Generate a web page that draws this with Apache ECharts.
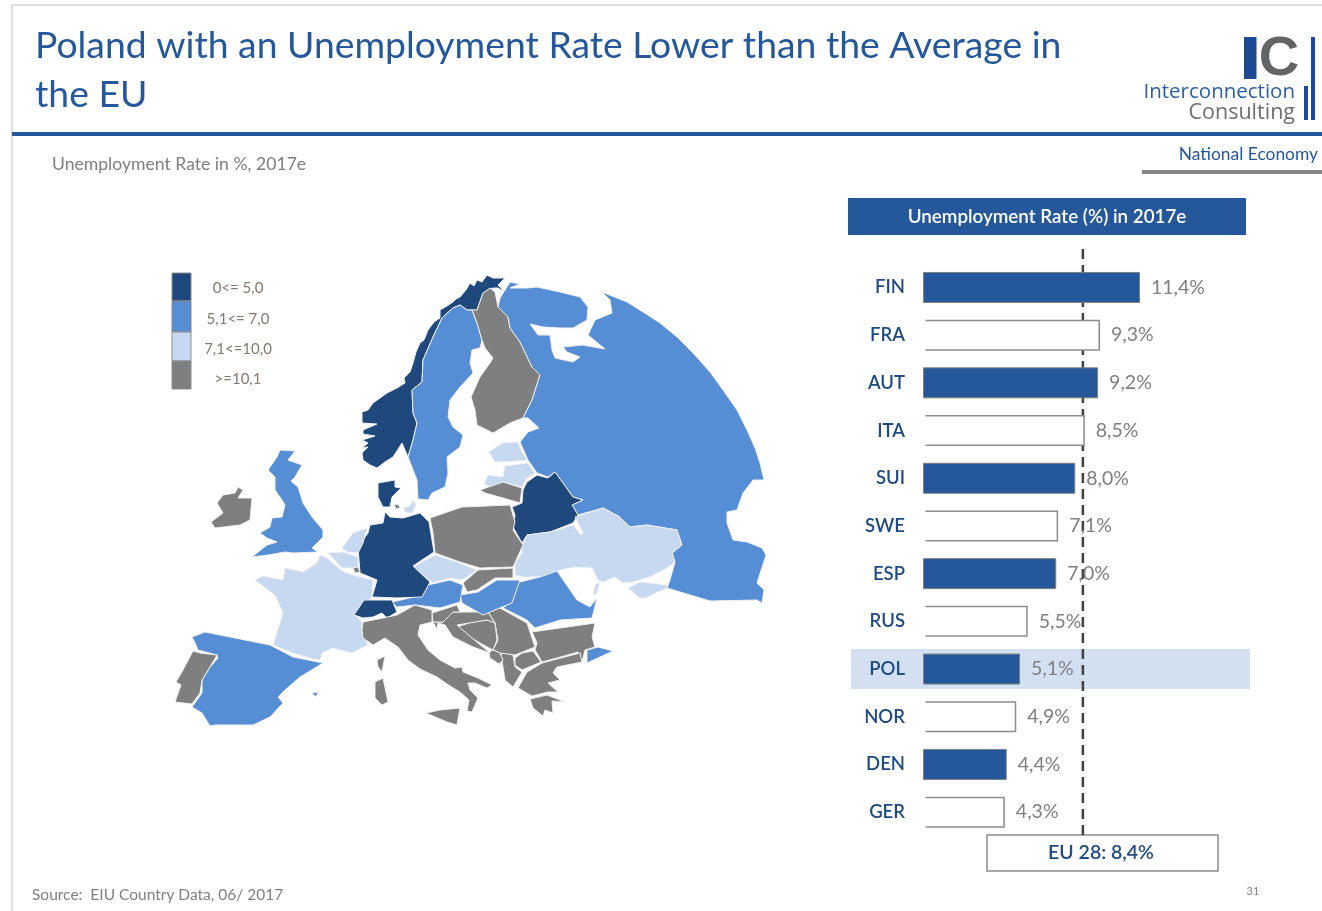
<!DOCTYPE html>
<html>
<head>
<meta charset="utf-8">
<title>Unemployment Rate in Europe, 2017e</title>
<script src="https://cdn.jsdelivr.net/npm/echarts@6/dist/echarts.min.js"></script>
<style>
  html, body { margin: 0; padding: 0; background: #fff; }
  #chart { width: 1322px; height: 911px; }
</style>
</head>
<body>
<div id="chart"></div>
<script>
// Ranking shown in the bar panel (percent, 2017e)
const countryCodes = ['FIN', 'FRA', 'AUT', 'ITA', 'SUI', 'SWE', 'ESP', 'RUS', 'POL', 'NOR', 'DEN', 'GER'];
const rateValues = [11.4, 9.3, 9.2, 8.5, 8.0, 7.1, 7.0, 5.5, 5.1, 4.9, 4.4, 4.3];
const solidBarCodes = ['FIN', 'AUT', 'SUI', 'ESP', 'POL', 'DEN'];
const euAverage = 8.4;

// Rate classes of the choropleth
const classLabels = ['0<= 5,0', '5,1<= 7,0', '7,1<=10,0', '>=10,1'];
const classColors = ['#1f497d', '#558ed5', '#c6d9f1', '#7f7f7f'];

// Countries by rate class, index into classLabels
const class0Countries = ['Norway', 'Belarus', 'Germany', 'Denmark', 'Switzerland'];
const class1Countries = ['Sweden', 'Russia', 'United Kingdom', 'Spain', 'Austria', 'Hungary', 'Romania', 'Turkey'];
const class2Countries = ['France', 'Ukraine', 'Czechia', 'Netherlands', 'Belgium', 'Estonia', 'Latvia', 'Zealand'];
const class3Countries = ['Finland', 'Poland', 'Ireland', 'Portugal', 'Italy', 'Slovakia', 'Slovenia', 'Croatia', 'Bosnia',
  'Serbia', 'Montenegro', 'Albania', 'Macedonia', 'Bulgaria', 'Greece', 'Lithuania', 'Luxembourg', 'Funen'];

// Simplified country outlines in map units (x east, y south), conic view of Europe
const countryOutlines = {
  Norway: [[[377,468],[370,465],[363,460],[362,453],[368,447],[362,448],[368,443],[362,440],[375,436],[363,434],[363,430],[377,424],[362,423],[362,412],[368,410],[373,403],[387,393],[397,388],[405,383],[404,378],[410,372],[413,363],[416,352],[420,343],[424,340],[428,330],[434,322],[440,318],[440,310],[447,306],[453,302],[456,299],[460,297],[466,290],[470,283],[474,286],[477,280],[482,282],[487,275],[493,278],[505,278],[498,285],[505,292],[498,288],[493,288],[483,293],[477,310],[467,310],[460,305],[453,308],[442,318],[433,337],[423,360],[422,382],[412,390],[413,413],[417,423],[413,440],[408,457],[402,443],[393,457],[385,462]]],
  Sweden: [[[453,308],[460,305],[467,310],[472,310],[477,323],[482,340],[480,348],[472,350],[470,363],[473,373],[460,387],[450,400],[448,417],[453,427],[463,435],[460,447],[447,457],[448,473],[445,487],[432,493],[428,500],[418,499],[417,480],[408,457],[413,440],[417,423],[413,413],[412,390],[422,382],[423,360],[433,337],[442,318]]],
  Finland: [[[490,288],[495,292],[498,307],[508,317],[510,328],[520,342],[532,367],[540,375],[532,400],[523,418],[510,423],[493,433],[477,425],[475,410],[471,397],[480,377],[490,363],[493,358],[485,348],[482,340],[477,323],[472,310],[477,310],[483,293]]],
  Russia: [[[500,298],[510,282],[520,284],[510,288],[527,288],[537,287],[560,292],[580,297],[588,307],[587,320],[573,328],[560,328],[543,327],[530,324],[538,335],[550,335],[552,350],[555,358],[573,362],[580,357],[567,352],[563,347],[583,345],[605,349],[588,335],[595,320],[612,313],[610,300],[602,292],[627,302],[643,312],[660,323],[677,337],[693,353],[710,372],[723,390],[737,410],[747,430],[755,448],[760,463],[764,480],[753,480],[743,493],[737,510],[727,512],[727,523],[733,540],[747,542],[762,548],[766,555],[757,583],[764,590],[762,603],[757,600],[710,601],[667,588],[670,580],[675,562],[672,553],[682,545],[677,530],[647,525],[630,527],[620,517],[603,508],[578,515],[572,505],[583,500],[573,497],[555,472],[548,477],[537,473],[528,460],[520,442],[528,432],[539,428],[528,418],[523,418],[532,400],[540,375],[532,367],[520,342],[510,328],[508,317],[498,307]]],
  Belarus: [[[527,482],[537,475],[548,478],[555,472],[573,497],[583,500],[572,505],[578,515],[573,523],[550,532],[527,535],[522,543],[513,527],[515,515],[512,507],[522,503],[523,490]]],
  Ukraine: [[[522,545],[527,535],[550,532],[573,525],[581,535],[583,533],[575,517],[603,508],[620,517],[630,527],[647,525],[677,530],[682,545],[672,553],[675,562],[667,568],[650,577],[633,582],[623,583],[615,577],[603,582],[598,580],[592,568],[575,567],[560,570],[543,577],[523,577],[515,575],[515,563],[522,553]],
    [[628,588],[640,582],[668,585],[667,588],[645,598],[640,598]],
    [[595,585],[600,582],[597,593],[593,595]]],
  Romania: [[[520,582],[540,577],[557,571],[577,600],[590,607],[597,598],[592,618],[560,620],[535,628],[527,620],[503,608],[513,600],[517,585]]],
  Bulgaria: [[[532,632],[567,627],[595,623],[592,637],[595,647],[585,650],[582,662],[578,652],[557,658],[542,662],[535,650],[537,643]]],
  Turkey: [[[587,650],[598,647],[613,651],[600,657],[587,663]]],
  Greece: [[[542,663],[580,653],[582,662],[557,667],[553,673],[560,680],[548,683],[558,692],[548,692],[532,696],[518,688],[527,672]],
    [[530,699],[547,695],[565,702],[552,701],[553,713],[545,710],[543,716],[533,708]]],
  Macedonia: [[[515,658],[522,653],[533,651],[541,662],[522,670],[515,665]]],
  Albania: [[[501,655],[503,652],[513,655],[515,667],[522,672],[513,687],[505,680],[503,667]]],
  Serbia: [[[488,612],[500,608],[527,623],[535,647],[515,655],[500,653],[493,650],[498,640],[495,623]]],
  Montenegro: [[[489,652],[493,650],[500,653],[503,660],[499,664],[490,658]]],
  Bosnia: [[[457,627],[472,622],[488,620],[495,623],[497,640],[493,650],[480,643],[470,637]]],
  Croatia: [[[433,622],[443,622],[453,612],[473,612],[488,612],[495,623],[487,620],[457,625],[472,638],[490,653],[473,647],[453,637],[445,625],[438,623],[437,629]]],
  Slovenia: [[[432,613],[457,605],[460,612],[453,612],[443,622],[433,622]]],
  Hungary: [[[460,595],[478,592],[497,580],[520,580],[512,603],[502,607],[483,615],[462,603]]],
  Slovakia: [[[463,583],[478,570],[513,568],[513,578],[495,578],[477,590],[467,592]]],
  Austria: [[[392,602],[423,595],[428,585],[450,580],[463,585],[460,602],[440,608],[415,605],[397,607]]],
  Czechia: [[[413,567],[435,555],[457,562],[477,570],[462,580],[450,578],[433,583]]],
  Poland: [[[430,518],[462,507],[510,505],[515,522],[513,530],[523,545],[513,567],[480,568],[460,562],[435,553],[433,533]]],
  Germany: [[[385,512],[390,517],[403,518],[420,513],[429,522],[434,552],[413,566],[430,582],[422,597],[397,598],[372,597],[377,580],[360,573],[358,547],[368,533],[370,525],[383,523]]],
  Denmark: [[[378,483],[395,480],[395,487],[401,488],[392,497],[390,507],[383,507],[378,497]]],
  Funen: [[[394,504],[399,505],[400,508],[396,509]]],
  Zealand: [[[403,508],[410,506],[413,500],[416,505],[412,513],[405,512]]],
  'United Kingdom': [[[280,450],[295,451],[288,460],[302,465],[295,477],[291,481],[298,487],[303,503],[312,517],[323,530],[323,537],[312,548],[318,552],[293,553],[285,552],[268,555],[252,557],[267,545],[277,542],[267,538],[260,533],[270,527],[272,518],[282,517],[285,505],[282,500],[275,490],[275,477],[268,470],[277,457]]],
  Ireland: [[[238,487],[243,490],[238,498],[252,498],[250,520],[240,525],[215,528],[211,522],[223,513],[217,503],[223,495],[235,493]]],
  Netherlands: [[[342,548],[353,533],[367,528],[363,543],[358,553],[347,552]]],
  Belgium: [[[328,553],[343,552],[358,557],[358,567],[352,568],[342,568]]],
  Luxembourg: [[[353,568],[358,567],[360,572],[355,573]]],
  France: [[[320,555],[327,558],[342,571],[353,575],[373,580],[372,597],[355,615],[362,622],[362,633],[368,645],[352,653],[333,648],[322,653],[320,660],[313,659],[293,653],[273,645],[283,613],[275,595],[255,580],[263,576],[283,580],[285,568],[303,572],[317,563]]],
  Switzerland: [[[354,615],[364,600],[392,600],[397,612],[387,618],[382,613],[373,617],[363,618]]],
  Italy: [[[363,622],[383,618],[397,615],[415,605],[432,610],[432,622],[420,625],[418,635],[428,650],[440,660],[455,668],[462,667],[463,672],[478,678],[492,685],[487,688],[475,683],[468,683],[470,690],[478,698],[472,712],[467,711],[469,700],[460,692],[450,686],[437,677],[420,669],[408,660],[398,647],[385,638],[373,645],[363,638],[362,630]],
    [[426,713],[440,710],[460,708],[457,725],[447,722]],
    [[375,682],[383,678],[388,702],[382,705],[375,698]],
    [[377,660],[385,656],[382,672],[378,667]]],
  Spain: [[[192,637],[205,632],[270,645],[293,657],[323,663],[300,677],[285,690],[278,697],[283,703],[270,717],[253,725],[215,725],[210,726],[202,713],[192,707],[202,693],[202,680],[210,667],[218,658],[217,655],[198,650],[195,643]],
    [[312,693],[318,692],[316,697]]],
  Portugal: [[[193,651],[200,653],[217,655],[210,667],[202,680],[200,693],[192,704],[175,702],[181,685],[176,682],[183,670]]],
  Estonia: [[[489,452],[502,443],[518,442],[522,452],[528,460],[505,462],[495,462]]],
  Latvia: [[[484,484],[488,475],[503,477],[505,466],[528,463],[535,473],[527,478],[522,487],[503,482],[490,487]]],
  Lithuania: [[[480,490],[503,482],[522,488],[520,503],[503,498],[485,493]]]
};

const BRAND_BLUE = '#25589b';
const TEXT_GREY = '#7f7f7f';
const LABEL_BLUE = '#1f4b82';
const FONT = 'Lato, "Open Sans", sans-serif';

// GeoJSON latitude grows northwards, so the south-pointing y is negated here
const geoFeatures = Object.keys(countryOutlines).map(function (name) {
  return {
    type: 'Feature',
    properties: { name: name },
    geometry: {
      type: 'MultiPolygon',
      coordinates: countryOutlines[name].map(function (ring) {
        return [ring.map(function (p) { return [p[0], -p[1]]; })];
      })
    }
  };
});
echarts.registerMap('europe', { type: 'FeatureCollection', features: geoFeatures });

const allPoints = Object.values(countryOutlines).flat(2);
const mapBox = {
  left: Math.min.apply(null, allPoints.map(function (p) { return p[0]; })),
  right: Math.max.apply(null, allPoints.map(function (p) { return p[0]; })),
  top: Math.min.apply(null, allPoints.map(function (p) { return p[1]; })),
  bottom: Math.max.apply(null, allPoints.map(function (p) { return p[1]; }))
};

const mapData = [class0Countries, class1Countries, class2Countries, class3Countries]
  .flatMap(function (names, cls) {
    return names.map(function (name) { return { name: name, value: cls }; });
  });

function commaPercent(v) { return v.toFixed(1).replace('.', ',') + '%'; }
function barSeriesValues(keepSolid) {
  return countryCodes.map(function (code, i) {
    return (solidBarCodes.indexOf(code) >= 0) === keepSolid ? rateValues[i] : null;
  });
}
function barLabel() {
  return {
    show: true, position: 'right', distance: 11,
    color: TEXT_GREY, fontFamily: FONT, fontSize: 19.5,
    formatter: function (p) { return commaPercent(p.value); }
  };
}

// Decorative slide furniture: frame, rules, logo, panel header, legend and notes
function slideGraphics() {
  const items = [
    { type: 'rect', shape: { x: 11, y: 4, width: 1311, height: 2 }, style: { fill: '#dedede' } },
    { type: 'rect', shape: { x: 11, y: 4, width: 2, height: 907 }, style: { fill: '#dedede' } },
    { type: 'rect', shape: { x: 12, y: 132, width: 1310, height: 4 }, style: { fill: BRAND_BLUE } },
    { type: 'rect', shape: { x: 1142, y: 170, width: 180, height: 4 }, style: { fill: '#858585' } },
    // logo
    { type: 'rect', shape: { x: 1244, y: 37, width: 12.5, height: 42 }, style: { fill: '#1d4a94' } },
    { type: 'text', x: 1279, y: 60, style: { text: 'C', fill: '#636466', font: 'bold 56px "Liberation Sans"', align: 'center', verticalAlign: 'middle' } },
    { type: 'rect', shape: { x: 1311, y: 37, width: 4, height: 83 }, style: { fill: '#1d4a94' } },
    { type: 'rect', shape: { x: 1304, y: 86, width: 4, height: 34 }, style: { fill: '#1d4a94' } },
    { type: 'text', x: 1295, y: 92, style: { text: 'Interconnection', fill: '#2b5ea6', font: '20.5px "Open Sans"', align: 'right', verticalAlign: 'middle' } },
    { type: 'text', x: 1295, y: 113, style: { text: 'Consulting', fill: '#6f6f6f', font: '21.5px "Open Sans"', align: 'right', verticalAlign: 'middle' } },
    { type: 'text', x: 1318, y: 154, style: { text: 'National Economy', fill: BRAND_BLUE, font: '17.4px ' + FONT, align: 'right', verticalAlign: 'middle' } },
    { type: 'text', x: 52, y: 164, style: { text: 'Unemployment Rate in %, 2017e', fill: TEXT_GREY, font: '17.6px ' + FONT, verticalAlign: 'middle' } },
    { type: 'text', x: 32, y: 895, style: { text: 'Source:  EIU Country Data, 06/ 2017', fill: TEXT_GREY, font: '15.5px ' + FONT, verticalAlign: 'middle' } },
    { type: 'text', x: 1253, y: 891, style: { text: '31', fill: TEXT_GREY, font: '11px ' + FONT, align: 'center', verticalAlign: 'middle' } },
    // bar panel header, highlighted row and EU box
    { type: 'rect', shape: { x: 848, y: 198, width: 398, height: 37 }, style: { fill: BRAND_BLUE } },
    { type: 'text', x: 1047, y: 217, style: { text: 'Unemployment Rate (%) in 2017e', fill: '#ffffff', font: '600 18.8px ' + FONT, align: 'center', verticalAlign: 'middle' } },
    { type: 'rect', z: -1, shape: { x: 851, y: 649, width: 399, height: 40 }, style: { fill: '#d3e0f2' } },
    { type: 'rect', shape: { x: 987, y: 835, width: 231, height: 36 }, style: { fill: '#ffffff', stroke: '#8c8c8c', lineWidth: 1.5 } },
    { type: 'text', x: 1101, y: 853, style: { text: 'EU 28: ' + commaPercent(euAverage), fill: LABEL_BLUE, font: '600 19.5px ' + FONT, align: 'center', verticalAlign: 'middle' } }
  ];
  const swatchY = [273, 301, 332, 361];
  const swatchH = [28, 31, 29, 28];
  classLabels.forEach(function (label, i) {
    items.push({ type: 'rect', shape: { x: 172, y: swatchY[i], width: 19, height: swatchH[i] }, style: { fill: classColors[i], stroke: '#8c8c8c', lineWidth: 1 } });
    items.push({ type: 'text', x: 238, y: 288.5 + i * 30.2, style: { text: label, fill: '#85786d', font: '15px ' + FONT, align: 'center', verticalAlign: 'middle' } });
  });
  return items;
}

const chart = echarts.init(document.getElementById('chart'), null, { renderer: 'canvas' });
chart.setOption({
  animation: false,
  backgroundColor: '#ffffff',
  title: {
    text: 'Poland with an Unemployment Rate Lower than the Average in\nthe EU',
    left: 30, top: 16,
    textStyle: { color: BRAND_BLUE, fontFamily: FONT, fontWeight: 'normal', fontSize: 37.3, lineHeight: 49 }
  },
  graphic: { elements: slideGraphics() },
  visualMap: {
    show: false, type: 'piecewise', seriesIndex: 0, dimension: 0,
    pieces: classColors.map(function (color, i) { return { value: i, color: color }; })
  },
  grid: [
    { left: 923, top: 263.6, width: 342.6, height: 572.4 },
    { left: 923, top: 243, width: 342.6, height: 592 }
  ],
  xAxis: [
    { type: 'value', min: 0, max: 18, gridIndex: 0, show: false },
    { type: 'value', min: 0, max: 18, gridIndex: 1, show: false }
  ],
  yAxis: [
    {
      type: 'category', data: countryCodes, inverse: true, gridIndex: 0,
      axisTick: { show: false },
      axisLine: { show: false },
      axisLabel: { margin: 18, padding: [2, 0, 0, 0], color: LABEL_BLUE, fontFamily: FONT, fontSize: 18.5, fontWeight: 600 }
    },
    { type: 'value', min: 0, max: 1, gridIndex: 1, show: false }
  ],
  series: [
    {
      type: 'map', map: 'europe', roam: false, aspectScale: 1,
      left: mapBox.left, top: mapBox.top,
      width: mapBox.right - mapBox.left, height: mapBox.bottom - mapBox.top,
      data: mapData, silent: true,
      label: { show: false },
      itemStyle: { borderColor: '#f0f0f0', borderWidth: 1 }
    },
    {
      name: 'EU 28', type: 'line', xAxisIndex: 1, yAxisIndex: 1, z: 1, silent: true,
      data: [[euAverage, 0], [euAverage, 1]], showSymbol: false,
      lineStyle: { color: '#404040', width: 2.5, type: [10, 6] }
    },
    {
      type: 'bar', xAxisIndex: 0, yAxisIndex: 0, z: 2, barWidth: 31, barGap: '-100%', silent: true,
      data: barSeriesValues(true),
      itemStyle: { color: BRAND_BLUE, borderColor: '#7f7f7f', borderWidth: 1 },
      label: barLabel()
    },
    {
      type: 'bar', xAxisIndex: 0, yAxisIndex: 0, z: 2, barWidth: 31, barGap: '-100%', silent: true,
      data: barSeriesValues(false),
      itemStyle: { color: '#ffffff', borderColor: '#8c8c8c', borderWidth: 1.5 },
      label: barLabel()
    },
    {
      // Open bars have no closing edge at the baseline; a thin white tick hides it
      type: 'scatter', xAxisIndex: 0, yAxisIndex: 0, z: 5, silent: true, clip: false,
      symbol: 'rect', symbolSize: [5, 36],
      itemStyle: { color: '#ffffff', opacity: 1 },
      data: countryCodes.map(function (c, i) { return [0, i]; })
        .filter(function (p) { return solidBarCodes.indexOf(countryCodes[p[1]]) < 0; })
    }
  ]
});
</script>
</body>
</html>
